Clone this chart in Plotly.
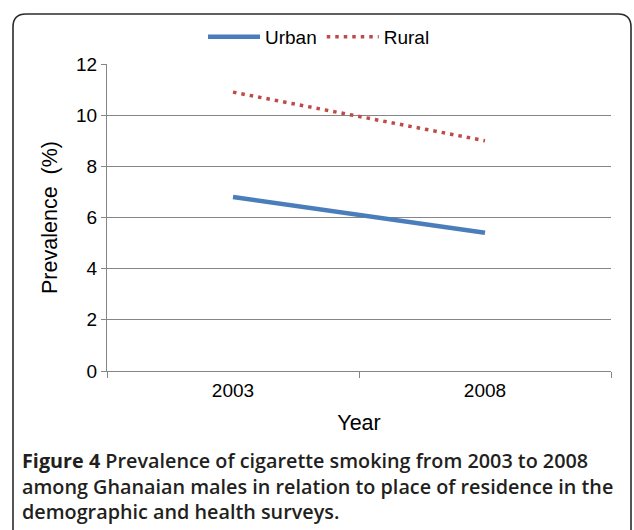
import plotly.graph_objects as go

years = ["2003", "2008"]
urban = [6.8, 5.4]
rural = [10.9, 9.0]
y_ticks = [0, 2, 4, 6, 8, 10, 12]
caption_lines = [
    "<b>Figure 4</b> Prevalence of cigarette smoking from 2003 to 2008",
    "among Ghanaian males in relation to place of residence in the",
    "demographic and health surveys.",
]

W, H = 634, 530
ML, MR, MT, MB = 107, 23, 64, 159
PW, PH = W - ML - MR, H - MT - MB

def px(x):
    return (x - ML) / PW

def py(y):
    return (H - MB - y) / PH

fig = go.Figure()
fig.add_trace(go.Scatter(x=years, y=urban, mode="lines", name="Urban",
                         line=dict(color="#4a7ebb", width=4.5)))
fig.add_trace(go.Scatter(x=years, y=rural, mode="lines", name="Rural",
                         line=dict(color="#be4b48", width=3.5, dash="3.5px,5px")))

# rounded border frame
L, R, T, B, r = 13, 631, 14, 540, 13
path = (f"M {px(L)},{py(B)} L {px(L)},{py(T + r)} Q {px(L)},{py(T)} {px(L + r)},{py(T)} "
        f"L {px(R - r)},{py(T)} Q {px(R)},{py(T)} {px(R)},{py(T + r)} L {px(R)},{py(B)}")
fig.add_shape(type="path", path=path, xref="paper", yref="paper",
              line=dict(color="#2b2b2b", width=1.6))

fig.add_annotation(
    x=px(20), y=py(486), xref="paper", yref="paper",
    xanchor="left", yanchor="middle", align="left", showarrow=False,
    text="<br>".join(caption_lines),
    font=dict(family="Open Sans", size=19.8, color="#231f20", weight=600),
)

fig.update_layout(
    width=W, height=H,
    margin=dict(l=ML, r=MR, t=MT, b=MB, autoexpand=False),
    paper_bgcolor="white", plot_bgcolor="white",
    font=dict(family="Liberation Sans, Arial", color="#000000"),
    showlegend=True,
    legend=dict(orientation="h", x=px(319), xanchor="center", y=py(37), yanchor="middle",
                font=dict(size=19), itemwidth=52, bgcolor="rgba(0,0,0,0)"),
    xaxis=dict(
        type="category", range=[-0.5, 1.5], showgrid=False, automargin=False,
        showline=True, linecolor="#868686", linewidth=1,
        ticks="outside", tickson="boundaries", ticklen=6, tickcolor="#868686",
        tickfont=dict(size=19), ticklabelstandoff=2,
        title=dict(text="Year", font=dict(size=21.5), standoff=15),
    ),
    yaxis=dict(
        range=[0, 12], tickvals=y_ticks, showgrid=True, gridcolor="#868686", gridwidth=1,
        showline=True, linecolor="#868686", linewidth=1, automargin=False,
        ticks="outside", ticklen=5, tickcolor="#868686",
        tickfont=dict(size=19), zeroline=False,
        title=dict(text="Prevalence\u00a0\u00a0(%)", font=dict(size=21.5), standoff=12),
    ),
)

fig.write_html("out.html", config={"displayModeBar": False},
               post_script="document.body.style.margin='0';")
